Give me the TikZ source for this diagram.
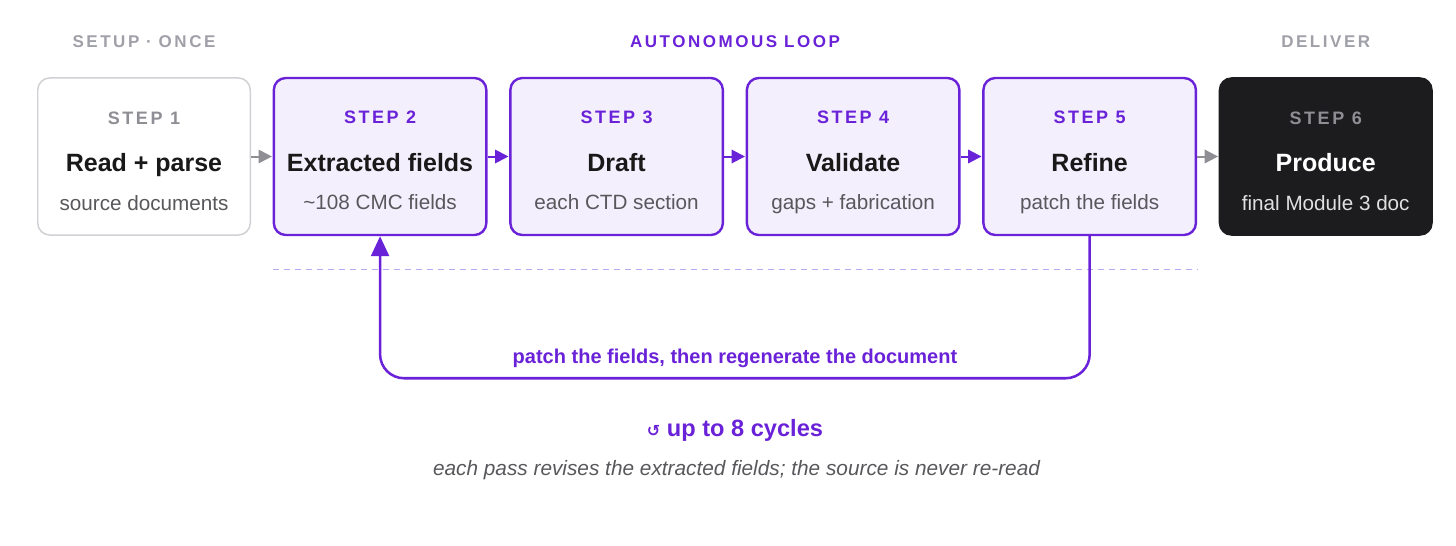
\documentclass[tikz,border=0pt]{standalone}
\usepackage{fontspec}
\setmainfont{Liberation Sans}
\newfontfamily\symfont{DejaVu Sans}
\usetikzlibrary{positioning,arrows.meta}

\definecolor{loopviolet}{HTML}{6A22D8}
\definecolor{loopfill}{HTML}{F3EFFD}
\definecolor{setupgray}{HTML}{D0D0D5}
\definecolor{labelgray}{HTML}{8E8E94}
\definecolor{headgray}{HTML}{A0A0A8}
\definecolor{subgray}{HTML}{58585C}
\definecolor{deliverdark}{HTML}{1C1C1E}
\definecolor{dashviolet}{HTML}{BBA8F2}

\begin{document}
\begin{tikzpicture}[
        x=0.75pt, y=-0.75pt,
        stepbox/.style={
                rectangle,
                rounded corners=9pt,
                minimum width=159.4pt,
                minimum height=117.8pt,
                inner sep=0pt
            },
        setup/.style={stepbox, draw=setupgray, line width=1.1pt, fill=white},
        inloop/.style={stepbox, draw=loopviolet, line width=1.8pt, fill=loopfill},
        deliver/.style={stepbox, draw=deliverdark, line width=1.1pt, fill=deliverdark},
        phase/.style={anchor=base, font=\fontsize{12.75}{15}\selectfont\bfseries\addfontfeature{LetterSpace=15}},
        stepno/.style={anchor=base, font=\fontsize{13.5}{16}\selectfont\bfseries\addfontfeature{LetterSpace=14}},
        steptitle/.style={anchor=base, font=\fontsize{18.75}{22}\selectfont\bfseries},
        stepsub/.style={anchor=base, font=\fontsize{15.5}{18}\selectfont},
        flow/.style={-{Triangle[length=10pt,width=10pt]}, line width=1.5pt, shorten >=0.5pt},
        feedback/.style={-{Triangle[length=15pt,width=13.5pt]}, draw=loopviolet, line width=1.9pt, rounded corners=18pt},
        sepline/.style={draw=dashviolet, line width=1.1pt, dash pattern=on 4.5pt off 3.75pt}
    ]
    \useasboundingbox (0,0) rectangle (1456,546);

    % the six steps
    \node[setup] (b1) at (144,156.5) {};
    \node[inloop] (b2) [right=16.2pt of b1] {};
    \node[inloop] (b3) [right=16.2pt of b2] {};
    \node[inloop] (b4) [right=16.2pt of b3] {};
    \node[inloop] (b5) [right=16.2pt of b4] {};
    \node[deliver] (b6) [right=16.2pt of b5] {};

    % phase headings
    \node[phase,text=headgray] (h1) at ([yshift=22.5pt]b1.north) {SETUP\hspace{0.4em}·\hspace{0.4em}ONCE};
    \node[phase,text=loopviolet] (h2) at (735,47) {AUTONOMOUS\hspace{0.4em}LOOP};
    \node[phase,text=headgray] (h3) at ([yshift=22.5pt]b6.north) {DELIVER};

    % box texts
    \node[stepno,text=labelgray] (n1) at ([yshift=-35.25pt]b1.north) {STEP 1};
    \node[steptitle,text=black!90] (t1) at ([yshift=-70.9pt]b1.north) {Read + parse};
    \node[stepsub,text=subgray] (s1) at ([yshift=-99.75pt]b1.north) {source documents};

    \node[stepno,text=loopviolet] (n2) at ([yshift=-35.25pt]b2.north) {STEP 2};
    \node[steptitle,text=black!90] (t2) at ([yshift=-70.9pt]b2.north) {Extracted fields};
    \node[stepsub,text=subgray] (s2) at ([yshift=-99.75pt]b2.north) {\char"007E{}108 CMC fields};

    \node[stepno,text=loopviolet] (n3) at ([yshift=-35.25pt]b3.north) {STEP 3};
    \node[steptitle,text=black!90] (t3) at ([yshift=-70.9pt]b3.north) {Draft};
    \node[stepsub,text=subgray] (s3) at ([yshift=-99.75pt]b3.north) {each CTD section};

    \node[stepno,text=loopviolet] (n4) at ([yshift=-35.25pt]b4.north) {STEP 4};
    \node[steptitle,text=black!90] (t4) at ([yshift=-70.9pt]b4.north) {Validate};
    \node[stepsub,text=subgray] (s4) at ([yshift=-99.75pt]b4.north) {gaps + fabrication};

    \node[stepno,text=loopviolet] (n5) at ([yshift=-35.25pt]b5.north) {STEP 5};
    \node[steptitle,text=black!90] (t5) at ([yshift=-70.9pt]b5.north) {Refine};
    \node[stepsub,text=subgray] (s5) at ([yshift=-99.75pt]b5.north) {patch the fields};

    \node[stepno,text=labelgray] (n6) at ([yshift=-35.25pt]b6.north) {STEP 6};
    \node[steptitle,text=white] (t6) at ([yshift=-70.9pt]b6.north) {Produce};
    \node[stepsub,text=black!12] (s6) at ([yshift=-99.75pt]b6.north) {final Module 3 doc};

    % forward arrows
    \draw[flow,draw=labelgray] (b1) -- (b2);
    \draw[flow,draw=loopviolet] (b2) -- (b3);
    \draw[flow,draw=loopviolet] (b3) -- (b4);
    \draw[flow,draw=loopviolet] (b4) -- (b5);
    \draw[flow,draw=labelgray] (b5) -- (b6);

    % loop boundary and feedback
    \draw[sepline] ([yshift=-24.75pt]b2.south west) -- ([yshift=-24.75pt]b5.south east);
    \draw[feedback] (b5.south) -- ++(0,142) -| (b2.south);
    \node[anchor=base,text=loopviolet,font=\fontsize{15}{18}\selectfont\bfseries] (fb) at (735,363) {patch the fields, then regenerate the document};

    \node[anchor=base,text=loopviolet,font=\fontsize{17.7}{21}\selectfont\bfseries] (cyc) at (735,436) {{\symfont\fontsize{12}{12}\selectfont ↺} up to 8 cycles};
    \node[anchor=base,text=subgray,font=\fontsize{15.6}{18}\selectfont\itshape] (note) at (736.5,475) {each pass revises the extracted fields; the source is never re-read};
\end{tikzpicture}
\end{document}
